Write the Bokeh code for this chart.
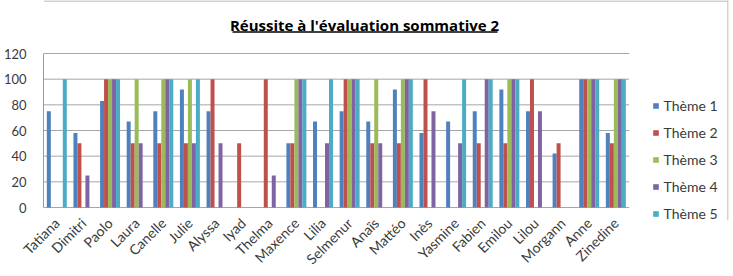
from bokeh.plotting import figure
from bokeh.models import (Legend, LegendItem, FixedTicker, ColumnDataSource,
                          Range1d, Label, BoxAnnotation, Span)
from bokeh.transform import dodge
from bokeh.embed import file_html
from bokeh.resources import INLINE
from math import pi

names = ["Tatiana", "Dimitri", "Paolo", "Laura", "Canelle", "Julie", "Alyssa", "Iyad",
         "Thelma", "Maxence", "Lilia", "Selmenur", "Anaïs", "Mattéo", "Inès", "Yasmine",
         "Fabien", "Emilou", "Lilou", "Morgann", "Anne", "Zinedine"]
theme1 = [75, 58, 83, 67, 75, 92, 75, 0, 0, 50, 67, 75, 67, 92, 58, 67, 75, 92, 75, 42, 100, 58]
theme2 = [0, 50, 100, 50, 50, 50, 100, 50, 100, 50, 0, 100, 50, 50, 100, 0, 50, 50, 100, 50, 100, 50]
theme3 = [0, 0, 100, 100, 100, 100, 0, 0, 0, 100, 0, 100, 100, 100, 0, 0, 0, 100, 0, 0, 100, 100]
theme4 = [0, 25, 100, 50, 100, 50, 50, 0, 25, 100, 50, 100, 50, 100, 75, 50, 100, 100, 75, 0, 100, 100]
theme5 = [100, 0, 100, 0, 100, 100, 0, 0, 0, 100, 100, 100, 0, 100, 0, 100, 100, 100, 0, 0, 100, 100]
series_labels = ["Thème 1", "Thème 2", "Thème 3", "Thème 4", "Thème 5"]
y_ticks = [0, 20, 40, 60, 80, 100, 120]
title_text = "Réussite à l'évaluation sommative 2"

colors = ["#4F81BD", "#C0504D", "#9BBB59", "#8064A2", "#4BACC6"]
FONT = "Lato"
TXT = "#3a3a3a"
GRID = "#a6a6a6"

# page geometry (pixels)
W, H = 733, 276
LEFT, RIGHT, TOP, BOTTOM = 43, 728, 0, 220      # plotting frame
CAT_PX = 26.62                                  # width of one category slot
Y0_PX, Y120_PX = 207, 53                        # where 0 and 120 sit
y_per_px = 120 / (Y0_PX - Y120_PX)

def px_to_x(px):
    return -0.5 + (px - LEFT) / CAT_PX

def px_to_y(py):
    return (Y0_PX - py) * y_per_px

n = len(names)
idx = list(range(n))
source = ColumnDataSource(dict(idx=idx, t1=theme1, t2=theme2, t3=theme3, t4=theme4, t5=theme5))

p = figure(width=W, height=H, output_backend="svg", toolbar_location=None,
           x_range=Range1d(px_to_x(LEFT), px_to_x(RIGHT)),
           y_range=Range1d(px_to_y(BOTTOM), px_to_y(TOP)),
           min_border_left=LEFT, min_border_right=W - RIGHT,
           min_border_top=TOP, min_border_bottom=H - BOTTOM)
p.outline_line_color = None
p.xgrid.visible = False
p.ygrid.visible = False

# horizontal gridlines across the category area only
p.segment(x0=-0.5, x1=n - 0.5, y0=y_ticks, y1=y_ticks, line_color=GRID, line_width=1)

bw = 0.15
renderers = []
for k, col in enumerate(["t1", "t2", "t3", "t4", "t5"]):
    r = p.vbar(x=dodge("idx", (k - 2) * bw), top=col, width=bw,
               source=source, fill_color=colors[k], line_color=None)
    renderers.append(r)

p.yaxis.ticker = FixedTicker(ticks=y_ticks)
p.yaxis.bounds = (0, 120)
p.yaxis.major_tick_line_color = None
p.yaxis.minor_tick_line_color = None
p.yaxis.axis_line_color = "#9a9a9a"
p.yaxis.major_label_text_font = FONT
p.yaxis.major_label_text_font_size = "13px"
p.yaxis.major_label_text_color = TXT
p.yaxis.major_label_standoff = 11

p.xaxis.ticker = FixedTicker(ticks=idx)
p.xaxis.major_label_overrides = {i: name for i, name in zip(idx, names)}
p.xaxis.major_tick_line_color = None
p.xaxis.minor_tick_line_color = None
p.xaxis.axis_line_color = None
p.xaxis.major_label_orientation = pi / 4
p.xaxis.major_label_text_font = FONT
p.xaxis.major_label_text_font_size = "14px"
p.xaxis.major_label_text_color = TXT
p.xaxis.major_label_standoff = -6

# underlined title
p.add_layout(Label(x=px_to_x(364), y=px_to_y(24), text=title_text, text_align="center",
                   text_baseline="middle", text_font="Open Sans", text_font_size="15px",
                   text_font_style="bold", text_color="black"))
p.add_layout(BoxAnnotation(left=px_to_x(232), right=px_to_x(497),
                           top=px_to_y(30.8), bottom=px_to_y(32.2),
                           fill_color="black", fill_alpha=1, line_color=None))

# chart border (top and right edges)
p.add_layout(Span(location=px_to_y(0.5), dimension="width", line_color=GRID, line_width=1))
p.add_layout(Span(location=px_to_x(727.5), dimension="height", line_color=GRID, line_width=1))

legend = Legend(items=[LegendItem(label=lab, renderers=[r]) for lab, r in zip(series_labels, renderers)],
                location=(608.6, BOTTOM - 221.5), glyph_width=7, glyph_height=7, label_height=7,
                spacing=10, padding=0, margin=0, label_standoff=5, border_line_color=None,
                background_fill_alpha=0, label_text_font=FONT, label_text_font_size="14px",
                label_text_color=TXT)
p.add_layout(legend)

open("out.html", "w").write(file_html(p, INLINE))
